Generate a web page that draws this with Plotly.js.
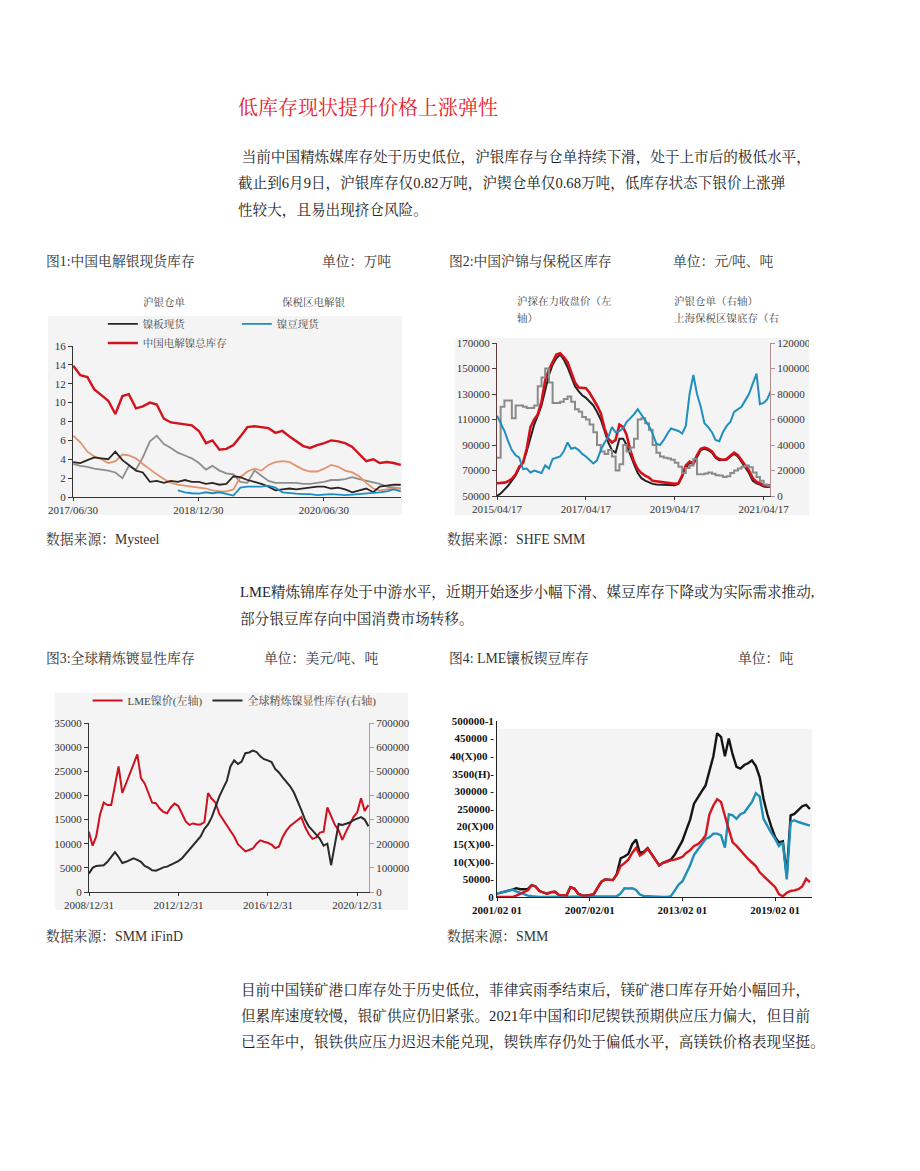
<!DOCTYPE html>
<html>
<head>
<meta charset="utf-8">
<script src="https://cdn.plot.ly/plotly-3.0.1.min.js"></script>
<style>
  body { margin: 0; background: #fff; }
  #page { position: relative; width: 920px; height: 1171px; font-family: "Liberation Serif", "Noto Serif CJK SC", "Noto Sans CJK SC", serif; color: #222; }
  .t { position: absolute; white-space: nowrap; line-height: 20px; }
  .p { font-size: 14.6px; }
  .cap { font-size: 13.8px; color: #333; }
  .lab { font-size: 10.5px; color: #444; }
  .chart { position: absolute; }
  .panel { position: absolute; background: #f4f4f4; }
  .dash { position: absolute; height: 0; border-top: 1px dashed; }
</style>
</head>
<body>
<div id="page">
  <div class="t" style="left:238px;top:98px;font-size:20px;color:#e5212b;">低库存现状提升价格上涨弹性</div>

  <div class="t p" style="left:238px;top:147px;">&nbsp;当前中国精炼媒库存处于历史低位，沪银库存与仓单持续下滑，处于上市后的极低水平，</div>
  <div class="t p" style="left:238px;top:173px;">截止到6月9日，沪银库存仅0.82万吨，沪锲仓单仅0.68万吨，低库存状态下银价上涨弹</div>
  <div class="t p" style="left:238px;top:200px;">性较大，且易出现挤仓风险。</div>

  <div class="t cap" style="left:46px;top:252px;">图1:中国电解银现货库存</div>
  <div class="t cap" style="left:322px;top:252px;">单位：万吨</div>
  <div class="t cap" style="left:449px;top:252px;">图2:中国沪锦与保税区库存</div>
  <div class="t cap" style="left:673px;top:252px;">单位：元/吨、吨</div>

  <div class="t lab" style="left:143px;top:293px;">沪银仓单</div>
  <div class="t lab" style="left:282px;top:293px;">保税区电解银</div>
  <div class="t lab" style="left:517px;top:292px;">沪探在力收盘价（左</div>
  <div class="t lab" style="left:517px;top:309px;">轴）</div>
  <div class="t lab" style="left:674px;top:292px;">沪银仓单（右轴）</div>
  <div class="t lab" style="left:674px;top:309px;">上海保税区镍底存（右</div>

  <div class="panel" style="left:48px;top:316px;width:354px;height:199px;"></div>
  <div id="chart1" class="chart" style="left:48px;top:296px;"></div>
  <div id="chart2" class="chart" style="left:455px;top:338px;"></div>

  <div class="t cap" style="left:46px;top:530px;">数据来源：Mysteel</div>
  <div class="t cap" style="left:447px;top:530px;">数据来源：SHFE SMM</div>

  <div class="t p" style="left:240px;top:582px;">LME精炼锦库存处于中游水平，近期开始逐步小幅下滑、媒豆库存下降或为实际需求推动,</div>
  <div class="t p" style="left:240px;top:609px;">部分银豆库存向中国消费市场转移。</div>

  <div class="t cap" style="left:46px;top:649px;">图3:全球精炼镀显性库存</div>
  <div class="t cap" style="left:264px;top:649px;">单位：美元/吨、吨</div>
  <div class="t cap" style="left:449px;top:649px;">图4: LME镶板锲豆库存</div>
  <div class="t cap" style="left:738px;top:649px;">单位：吨</div>

  <div class="t" style="left:480px;top:690px;font-size:10.5px;font-weight:bold;color:#222;">---------LME<span style="font-weight:normal">银总库存</span></div>
  <div class="dash" style="left:573px;top:700px;width:38px;border-color:#e89090;"></div>
  <div class="t" style="left:613px;top:690px;font-size:10.5px;font-weight:bold;color:#222;">LME<span style="font-weight:normal">锲板库存</span></div>
  <div class="dash" style="left:678px;top:700px;width:38px;border-color:#90c4d8;"></div>
  <div class="t" style="left:718px;top:690px;font-size:10.5px;font-weight:bold;color:#222;">LME<span style="font-weight:normal">像红库存</span></div>

  <div class="panel" style="left:55px;top:693px;width:353px;height:217px;"></div>
  <div id="chart3" class="chart" style="left:55px;top:673px;"></div>
  <div id="chart4" class="chart" style="left:445px;top:690px;"></div>

  <div class="t cap" style="left:46px;top:927px;">数据来源：SMM iFinD</div>
  <div class="t cap" style="left:447px;top:927px;">数据来源：SMM</div>

  <div class="t p" style="left:241px;top:980px;">目前中国镁矿港口库存处于历史低位，菲律宾雨季结束后，镁矿港口库存开始小幅回升，</div>
  <div class="t p" style="left:241px;top:1006px;">但累库速度较慢，银矿供应仍旧紧张。2021年中国和印尼锲铁预期供应压力偏大，但目前</div>
  <div class="t p" style="left:241px;top:1032px;">已至年中，银铁供应压力迟迟未能兑现，锲铁库存仍处于偏低水平，高镁铁价格表现坚挺。</div>
</div>

<script>
// date grid helper: count dates, every `step` months
function dateSeq(year, month, day, count, step) {
  const out = [];
  for (let i = 0; i < count; i++) {
    const t = (month - 1) + i * step;
    const y = year + Math.floor(t / 12);
    const m = (t % 12) + 1;
    out.push(y + '-' + String(m).padStart(2, '0') + '-' + String(day).padStart(2, '0'));
  }
  return out;
}

// ---- chart 1: 中国电解镍现货库存 (万吨), monthly 2017/07 - 2021/06
const c1Dates = dateSeq(2017, 7, 1, 48, 1);
const c1Total = [13.9, 12.9, 12.7, 11.4, 10.8, 10.2, 8.8, 10.7, 10.9, 9.4, 9.6, 10.0, 9.8, 8.3, 7.9, 7.8, 7.7, 7.6, 7.0, 5.7, 6.0, 5.0, 5.1, 5.5,
  6.4, 7.4, 7.5, 7.4, 7.3, 6.8, 7.0, 6.4, 5.9, 5.4, 5.2, 5.5, 5.7, 6.0, 5.9, 5.7, 5.3, 4.6, 3.8, 4.0, 3.6, 3.7, 3.6, 3.4];
const c1Warrant = [3.5, 3.3, 3.2, 3.0, 2.9, 2.8, 2.6, 2.0, 3.3, 2.9, 4.2, 5.9, 6.5, 5.6, 5.2, 4.7, 4.4, 4.1, 3.6, 2.9, 3.3, 2.8, 2.5, 2.4,
  1.6, 1.5, 2.8, 2.3, 1.7, 1.5, 1.5, 1.5, 1.5, 1.4, 1.4, 1.5, 1.6, 1.8, 1.8, 1.9, 2.1, 1.9, 1.7, 1.5, 1.4, 1.1, 1.0, 0.9];
const c1Bonded = [6.5, 5.8, 4.8, 4.3, 4.0, 3.6, 3.8, 4.5, 4.4, 4.1, 3.5, 2.9, 2.4, 1.9, 1.5, 1.3, 1.2, 1.1, 1.0, 0.9, 0.7, 0.6, 0.6, 0.8,
  2.1, 2.7, 3.0, 2.8, 3.4, 3.7, 3.8, 3.7, 3.3, 2.9, 2.7, 2.7, 3.0, 3.4, 3.2, 2.8, 2.6, 2.2, 1.5, 0.9, 0.7, 0.8, 0.9, 0.9];
const c1Plate = [3.7, 3.6, 3.9, 4.2, 4.1, 4.0, 4.8, 3.9, 3.4, 2.8, 2.6, 1.6, 1.7, 1.5, 1.7, 1.6, 1.8, 1.6, 1.6, 1.4, 1.5, 1.3, 1.4, 2.2,
  2.1, 1.8, 1.6, 1.4, 1.1, 0.7, 0.8, 0.9, 0.8, 0.9, 1.0, 1.1, 1.1, 0.9, 1.0, 0.8, 0.5, 0.7, 0.9, 0.5, 1.1, 1.2, 1.3, 1.3];
const c1Bean = [null, null, null, null, null, null, null, null, null, null, null, null, null, null, null,
  0.7, 0.5, 0.4, 0.35, 0.5, 0.4, 0.5, 0.35, 0.15, 1.0, 1.1, 1.1, 1.1, 1.2, 1.0, 0.5, 0.4, 0.35, 0.3, 0.3, 0.2,
  0.25, 0.3, 0.25, 0.2, 0.25, 0.3, 0.35, 0.4, 0.5, 0.6, 0.8, 0.6];
const c1TickVals = ['2017-06-30', '2018-12-30', '2020-06-30'];
const c1TickText = ['2017/06/30', '2018/12/30', '2020/06/30'];

// ---- chart 2: 沪镍收盘价 (左) 与库存 (右), monthly from 2015/04/17
const c2Dates = dateSeq(2015, 4, 17, 75, 1);
const c2Close = [60000, 60300, 60500, 61500, 63500, 67000, 73000, 76000, 87000, 104000,
  110000, 114000, 124000, 141000, 149000, 155000, 161000, 162000, 159000, 155000,
  147000, 139000, 135000, 135000, 134500, 131000, 126000, 121000, 115000, 103000,
  95000, 92000, 94000, 106000, 104000, 98000, 86000, 77000, 71000, 68000,
  66000, 64500, 62000, 61500, 61000, 60500, 60000, 59700, 59500, 60000,
  66000, 74000, 77000, 75500, 82000, 87000, 88000, 87000, 85000, 81000,
  79000, 78500, 79000, 81500, 84000, 82000, 78000, 74000, 70000, 64000,
  61000, 60000, 58500, 58000, 58500];
const c2Settle = [50000, 52000, 55000, 58000, 62000, 66000, 72000, 76000, 85000, 96000,
  106000, 113000, 121000, 133000, 145000, 153000, 158000, 161000, 157000, 151000,
  143000, 136000, 132000, 129000, 127000, 124000, 121000, 116000, 110000, 101000,
  92000, 86000, 84000, 95000, 95000, 90000, 82000, 75000, 68000, 64000,
  62000, 60500, 59500, 59000, 59000, 58800, 58500, 58500, 58500, 59500,
  65000, 72000, 76000, 75000, 81000, 86000, 87000, 86000, 84000, 80000,
  78000, 78000, 78500, 81000, 83000, 81000, 77000, 73000, 68000, 62000,
  60000, 59000, 57500, 57000, 57500];
const c2Warrant = [30000, 70000, 75000, 75000, 61000, 71000, 71000, 70000, 69000, 69000,
  71000, 86000, 93000, 100000, 89000, 73000, 73000, 74000, 76000, 78000,
  74000, 68000, 66000, 62000, 60000, 56000, 50000, 40000, 35000, 33000,
  36000, 31000, 20000, 25000, 40000, 35000, 38000, 45000, 60000, 61000,
  57000, 52000, 40000, 34000, 31000, 30000, 29500, 28500, 26000, 23000,
  18000, 22000, 24000, 29000, 17000, 17000, 17600, 18500, 17500, 16300,
  16000, 15000, 15500, 18000, 20000, 21500, 23000, 24000, 22500, 18500,
  15000, 12000, 9000, 8000, 7000];
const c2Bonded = [63000, 57000, 51000, 43000, 36000, 32000, 30000, 21000, 21500, 18500,
  20000, 19000, 18000, 24000, 21500, 29000, 30000, 31000, 35000, 42000,
  37000, 38000, 36000, 33000, 31000, 28000, 25500, 28000, 36000, 42000,
  46000, 54000, 50000, 51000, 53000, 58000, 61000, 64000, 68000, 64000,
  60000, 55000, 49000, 41000, 40000, 44000, 49000, 53000, 52000, 51000,
  49000, 55000, 80000, 95000, 80000, 70000, 57000, 54000, 50000, 44000,
  43000, 50000, 55000, 58000, 66000, 68000, 70000, 75000, 80000, 88000,
  96000, 72000, 73000, 76000, 83000];
const c2TickVals = ['2015-04-17', '2017-04-17', '2019-04-17', '2021-04-17'];
const c2TickText = ['2015/04/17', '2017/04/17', '2019/04/17', '2021/04/17'];

// ---- chart 3: LME镍价 (左) 与全球精炼镍显性库存 (右), every 2 months from 2008/12
const c3Dates = dateSeq(2008, 12, 28, 76, 2);
const c3Price = [12500, 9600, 11500, 16000, 18500, 18000, 18000, 22500, 26000, 20500,
  22500, 24500, 26300, 28500, 23600, 22500, 20500, 18500, 18400, 17300,
  16600, 16300, 17500, 18300, 17800, 16000, 14600, 13900, 14200, 14000,
  14000, 14500, 20500, 19300, 18500, 16200, 15000, 13700, 12700, 11500,
  9900, 9200, 8400, 8700, 9000, 10000, 10700, 10400, 10200, 9800,
  9100, 9400, 11400, 12700, 13700, 14300, 14800, 15500, 13500, 12000,
  11000, 11300, 12300, 12500, 17500, 15500, 13900, 12800, 10800, 12500,
  14000, 15500, 16500, 19400, 16800, 18000];
const c3Stock = [76000, 100000, 108000, 111000, 111000, 125000, 145000, 165000, 145000, 120000,
  125000, 132000, 139000, 133000, 125000, 108000, 101000, 90000, 88000, 95000,
  102000, 105000, 112000, 120000, 128000, 140000, 158000, 173000, 192000, 212000,
  230000, 262000, 280000, 310000, 355000, 395000, 428000, 460000, 520000, 545000,
  530000, 540000, 575000, 578000, 586000, 580000, 562000, 550000, 545000, 538000,
  510000, 495000, 475000, 455000, 438000, 412000, 380000, 340000, 300000, 272000,
  255000, 238000, 220000, 192000, 200000, 111000, 200000, 282000, 278000, 284000,
  288000, 298000, 305000, 310000, 300000, 272000];
const c3TickVals = ['2008-12-31', '2012-12-31', '2016-12-31', '2020-12-31'];
const c3TickText = ['2008/12/31', '2012/12/31', '2016/12/31', '2020/12/31'];

// ---- chart 4: LME库存 (吨), quarterly from 2001/02
const c4Dates = dateSeq(2001, 2, 1, 82, 3);
const c4Total = [9500, 12000, 14000, 18000, 21000, 25000, 22000, 22000, 23000, 34000,
  30000, 17000, 12000, 9000, 14000, 15000, 6000, 5000, 4000, 28000,
  24000, 10000, 4500, 4000, 4500, 7000, 25000, 43000, 50000, 50000,
  48000, 65000, 110000, 115000, 122000, 150000, 163000, 125000, 128000, 139000,
  123000, 105000, 90000, 97000, 101000, 106000, 120000, 140000, 160000, 190000,
  220000, 265000, 285000, 300000, 317000, 360000, 400000, 465000, 455000, 400000,
  450000, 405000, 370000, 365000, 375000, 380000, 388000, 372000, 340000, 279000,
  235000, 200000, 170000, 155000, 158000, 62000, 232000, 236000, 246000, 258000,
  262000, 250000];
const c4Plate = [0, 0, 0, 0, 0, 4000, 9500, 15000, 19000, 33000,
  30000, 17000, 12000, 9000, 14000, 15000, 6000, 5000, 4000, 28000,
  24000, 10000, 4500, 4000, 4500, 7000, 25000, 43000, 50000, 50000,
  48000, 63000, 88000, 96000, 106000, 125000, 140000, 118000, 125000, 137000,
  122000, 105000, 90000, 97000, 101000, 104000, 106000, 110000, 114000, 125000,
  133000, 145000, 150000, 160000, 175000, 235000, 260000, 278000, 270000, 230000,
  194000, 155000, 145000, 132000, 120000, 108000, 98000, 88000, 70000, 60000,
  50000, 40000, 28000, 8000, 2000, 12000, 17000, 19000, 22000, 30000,
  52000, 42000];
const c4Bean = [9500, 12000, 14000, 18000, 21000, 16000, 12000, 7000, 4000, 2000,
  0, 0, 0, 0, 0, 0, 0, 0, 0, 0,
  0, 0, 0, 0, 0, 0, 0, 0, 0, 0,
  0, 2000, 10000, 25000, 24000, 25000, 20000, 7000, 3000, 2000,
  1000, 0, 0, 0, 0, 2000, 18000, 35000, 45000, 65000,
  90000, 120000, 135000, 150000, 165000, 170000, 180000, 180000, 175000, 140000,
  235000, 232000, 222000, 235000, 240000, 255000, 270000, 295000, 285000, 222000,
  200000, 182000, 165000, 145000, 155000, 50000, 213000, 218000, 213000, 210000,
  208000, 203000];
const c4TickVals = ['2001-02-01', '2007-02-01', '2013-02-01', '2019-02-01'];
const c4TickText = ['2001/02 01', '2007/02/01', '2013/02 01', '2019/02 01'];
const c4YVals = [0, 50000, 100000, 150000, 200000, 250000, 300000, 350000, 400000, 450000, 500000];
const c4YText = ['0', '50000-', '10(X)00-', '15(X)00-', '20(X)00', '250000-', '300000 -', '3500(H)-', '40(X)00 -', '450000 -', '500000-1'];

const fam = 'Liberation Serif, Noto Serif CJK SC, Noto Sans CJK SC, serif';
const config = { staticPlot: true, displayModeBar: false };
const panel = '#f4f4f4';
const clear = 'rgba(0,0,0,0)';

function dateAxis(range, vals, text, color) {
  return { type: 'date', range: range, tickvals: vals, ticktext: text, ticklabeloverflow: 'allow',
    showgrid: false, showline: true, linecolor: color, ticks: 'outside', ticklen: 3, tickcolor: color, zeroline: false };
}

Plotly.newPlot('chart1', [
  { x: c1Dates, y: c1Warrant, name: '沪银仓单', mode: 'lines', line: { color: '#8d8d8d', width: 1.8 }, showlegend: false },
  { x: c1Dates, y: c1Bonded, name: '保税区电解银', mode: 'lines', line: { color: '#e3946f', width: 1.8 }, showlegend: false },
  { x: c1Dates, y: c1Plate, name: '镍板现货', mode: 'lines', line: { color: '#2e2424', width: 1.8 } },
  { x: c1Dates, y: c1Bean, name: '镍豆现货', mode: 'lines', line: { color: '#1b8fc4', width: 1.8 } },
  { x: c1Dates, y: c1Total, name: '中国电解镍总库存', mode: 'lines', line: { color: '#d2121c', width: 2.4 } }
], {
  width: 354, height: 219,
  margin: { l: 25, r: 1, t: 50, b: 18, autoexpand: false },
  paper_bgcolor: clear, plot_bgcolor: clear,
  font: { family: fam, size: 11, color: '#333' },
  legend: { orientation: 'h', x: 0.091, xanchor: 'left', y: 1.242, yanchor: 'top', entrywidth: 89, itemwidth: 30,
    font: { size: 10.5, color: '#444' }, bgcolor: clear, tracegroupgap: 0 },
  xaxis: dateAxis(['2017-06-30', '2021-06-02'], c1TickVals, c1TickText, '#333'),
  yaxis: { range: [0, 16], dtick: 2, showgrid: false, showline: true, linecolor: '#333', ticks: 'outside', ticklen: 4,
    tickcolor: '#333', zeroline: false, ticklabeloverflow: 'allow' }
}, config);

Plotly.newPlot('chart2', [
  { x: c2Dates, y: c2Warrant, name: '沪银仓单（右轴）', yaxis: 'y2', mode: 'lines', line: { color: '#8a8a8a', width: 2, shape: 'hv' } },
  { x: c2Dates, y: c2Bonded, name: '上海保税区镍库存（右轴）', yaxis: 'y2', mode: 'lines', line: { color: '#1f8fbf', width: 2 } },
  { x: c2Dates, y: c2Settle, name: '沪镍结算价（左轴）', mode: 'lines', line: { color: '#222222', width: 2 } },
  { x: c2Dates, y: c2Close, name: '沪镍收盘价（左轴）', mode: 'lines', line: { color: '#d4111b', width: 2.6 } }
], {
  width: 354, height: 177,
  margin: { l: 42, r: 39, t: 5, b: 19, autoexpand: false },
  paper_bgcolor: panel, plot_bgcolor: panel,
  showlegend: false,
  font: { family: fam, size: 11, color: '#333' },
  xaxis: dateAxis(['2015-04-17', '2021-06-08'], c2TickVals, c2TickText, '#333'),
  yaxis: { range: [50000, 170000], tick0: 50000, dtick: 20000, tickformat: 'd', showgrid: false, showline: true,
    linecolor: '#5a3a3a', ticks: 'outside', ticklen: 4, tickcolor: '#5a3a3a', zeroline: false, ticklabeloverflow: 'allow' },
  yaxis2: { overlaying: 'y', side: 'right', range: [0, 120000], tick0: 0, dtick: 20000, tickformat: 'd', showgrid: false,
    showline: true, linecolor: '#b48f8f', ticks: 'outside', ticklen: 4, tickcolor: '#b48f8f', zeroline: false,
    ticklabeloverflow: 'allow' }
}, config);

Plotly.newPlot('chart3', [
  { x: c3Dates, y: c3Price, name: 'LME镍价(左轴)', mode: 'lines', line: { color: '#d0101e', width: 2 } },
  { x: c3Dates, y: c3Stock, name: '全球精炼镍显性库存(右轴)', yaxis: 'y2', mode: 'lines', line: { color: '#2a2a2a', width: 2 } }
], {
  width: 360, height: 237,
  margin: { l: 34, r: 46, t: 50, b: 18, autoexpand: false },
  paper_bgcolor: clear, plot_bgcolor: clear,
  font: { family: fam, size: 11, color: '#333' },
  legend: { orientation: 'h', x: -0.005, xanchor: 'left', y: 1.219, yanchor: 'top', itemwidth: 30,
    font: { size: 11, color: '#444' }, bgcolor: clear },
  xaxis: dateAxis(['2008-12-31', '2021-07-08'], c3TickVals, c3TickText, '#333'),
  yaxis: { range: [0, 35000], dtick: 5000, tickformat: 'd', showgrid: false, showline: true, linecolor: '#333',
    ticks: 'outside', ticklen: 4, tickcolor: '#333', zeroline: false, ticklabeloverflow: 'allow' },
  yaxis2: { overlaying: 'y', side: 'right', range: [0, 700000], dtick: 100000, tickformat: 'd', showgrid: false,
    showline: true, linecolor: '#c99090', ticks: 'outside', ticklen: 4, tickcolor: '#c99090', zeroline: false,
    ticklabeloverflow: 'allow' }
}, config);

Plotly.newPlot('chart4', [
  { x: c4Dates, y: c4Total, name: 'LME镍总库存', mode: 'lines', line: { color: '#161414', width: 2.4 } },
  { x: c4Dates, y: c4Bean, name: 'LME镍豆库存', mode: 'lines', line: { color: '#1e8fb8', width: 2.4 } },
  { x: c4Dates, y: c4Plate, name: 'LME镍板库存', mode: 'lines', line: { color: '#d4161e', width: 2.4 } }
], {
  width: 370, height: 225,
  margin: { l: 52, r: 3, t: 31, b: 18, autoexpand: false },
  paper_bgcolor: '#ffffff', plot_bgcolor: '#ffffff',
  showlegend: false,
  font: { family: fam, size: 11, color: '#111' },
  shapes: [{ type: 'rect', layer: 'below', xref: 'paper', x0: 0, x1: 1, yref: 'y', y0: 0, y1: 478000,
    fillcolor: panel, line: { width: 0 } }],
  xaxis: Object.assign(dateAxis(['2001-02-01', '2021-06-20'], c4TickVals, c4TickText, '#222'),
    { tickfont: { weight: 'bold', size: 11 } }),
  yaxis: { range: [0, 500000], tickvals: c4YVals, ticktext: c4YText, tickfont: { weight: 'bold', size: 11 },
    showgrid: false, showline: true, linecolor: '#222', ticks: '', zeroline: false, ticklabeloverflow: 'allow' }
}, config);
</script>
</body>
</html>
